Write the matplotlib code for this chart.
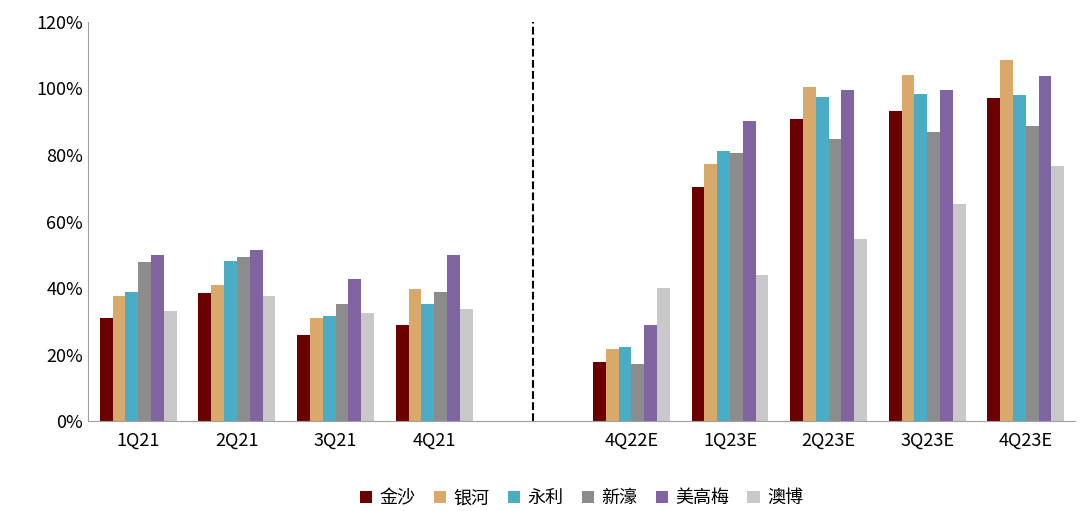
import matplotlib
matplotlib.use("Agg")
import matplotlib.pyplot as plt
import numpy as np

plt.rcParams["font.family"] = ["Noto Sans CJK SC", "DejaVu Sans"]

categories = ["1Q21", "2Q21", "3Q21", "4Q21", "4Q22E", "1Q23E", "2Q23E", "3Q23E", "4Q23E"]
positions = [0, 1, 2, 3, 5, 6, 7, 8, 9]
series_names = ["金沙", "银河", "永利", "新濠", "美高梅", "澳博"]
jinsha = [31.0, 38.5, 25.9, 28.9, 17.7, 70.4, 90.8, 93.2, 97.1]
yinhe = [37.6, 41.0, 31.0, 39.7, 21.7, 77.3, 100.5, 104.0, 108.6]
yongli = [38.8, 48.0, 31.6, 35.2, 22.3, 81.2, 97.4, 98.3, 98.0]
xinhao = [47.8, 49.3, 35.2, 38.8, 17.1, 80.6, 84.8, 86.9, 88.7]
meigaomei = [50.0, 51.4, 42.7, 50.0, 28.9, 90.2, 99.5, 99.5, 103.8]
aobo = [33.0, 37.6, 32.5, 33.7, 40.0, 43.9, 54.7, 65.3, 76.7]
series = [jinsha, yinhe, yongli, xinhao, meigaomei, aobo]
colors = ["#6B0000", "#D9A96B", "#4BACC6", "#8C8C8C", "#8064A2", "#C8C8C8"]

fig = plt.figure(figsize=(10.8, 5.11), dpi=100)
ax = fig.add_axes([0.0815, 0.176, 0.914, 0.781])
w = 0.13
x = np.array(positions, dtype=float)
for i, (vals, c, n) in enumerate(zip(series, colors, series_names)):
    ax.bar(x + (i - 2.5) * w, vals, width=w, color=c, label=n)

ax.axvline(4, color="black", linestyle="--", linewidth=1.5)
ax.set_xlim(-0.51, 9.5)
ax.set_ylim(0, 120)
ax.set_yticks(range(0, 121, 20))
ax.set_yticklabels([f"{v}%" for v in range(0, 121, 20)], fontsize=13)
ax.set_xticks(x)
ax.set_xticklabels(categories, fontsize=13)
ax.tick_params(axis="x", length=0, pad=8)
ax.tick_params(axis="y", length=0)
for s in ["top", "right"]:
    ax.spines[s].set_visible(False)
ax.spines["left"].set_color("#A0A0A0")
ax.spines["bottom"].set_color("#A0A0A0")
ax.legend(loc="upper center", bbox_to_anchor=(0.5, -0.13), ncol=6, frameon=False,
          fontsize=13, handlelength=0.7, handleheight=0.7, columnspacing=1.0, handletextpad=0.4)
fig.savefig("out.png", dpi=100)
